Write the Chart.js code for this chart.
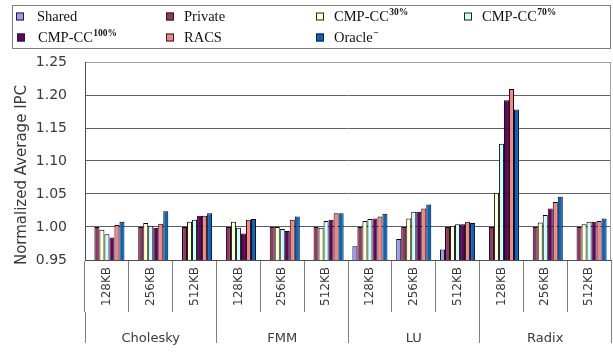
<!DOCTYPE html>
<html>
<head>
<meta charset="utf-8">
<script src="https://cdn.jsdelivr.net/npm/chart.js@4"></script>
<style>
  html, body { margin: 0; padding: 0; background: #fff; }
  #wrap { width: 613px; height: 354px; position: relative; }
</style>
</head>
<body>
<div id="wrap"><canvas id="c" width="613" height="354"></canvas></div>
<script>
// Benchmarks and the L2 cache sizes tested for each
const benchmarks = ['Cholesky', 'FMM', 'LU', 'Radix'];
const cacheSizes = ['128KB', '256KB', '512KB'];
const categories = benchmarks.flatMap(() => cacheSizes);

// Series names; the superscript part is kept separately
const seriesNames = ['Shared', 'Private', 'CMP-CC', 'CMP-CC', 'CMP-CC', 'RACS', 'Oracle'];
const seriesSup   = ['', '', '30%', '70%', '100%', '', '\u2212'];
const seriesColors = ['#9999FF', '#993366', '#FFFFCC', '#CCFFFF', '#660066', '#FF8080', '#0066CC'];

// Normalized average IPC (Cholesky 128/256/512, FMM ..., LU ..., Radix ...)
const shared  = [null, null, null, null, null, null, 0.971, 0.982, 0.966, null, null, null];
const priv    = [1.000, 1.000, 1.000, 1.000, 1.000, 1.000, 1.000, 1.000, 1.000, 1.000, 1.000, 1.000];
const cc30    = [0.996, 1.006, 1.008, 1.008, 1.000, 0.999, 1.009, 1.013, 1.002, 1.052, 1.007, 1.004];
const cc70    = [0.989, 1.002, 1.011, 0.999, 0.997, 1.009, 1.012, 1.023, 1.004, 1.126, 1.018, 1.008];
const cc100   = [0.984, 0.999, 1.017, 0.990, 0.994, 1.011, 1.013, 1.023, 1.004, 1.192, 1.028, 1.008];
const racs    = [1.003, 1.005, 1.017, 1.011, 1.011, 1.021, 1.016, 1.028, 1.008, 1.209, 1.038, 1.009];
const oracle  = [1.008, 1.024, 1.021, 1.012, 1.016, 1.021, 1.020, 1.034, 1.006, 1.178, 1.046, 1.013];
const seriesValues = [shared, priv, cc30, cc70, cc100, racs, oracle];

const yTicks = [0.95, 1.00, 1.05, 1.10, 1.15, 1.20, 1.25];
const yTitle = 'Normalized Average IPC';

const sansFont = 'DejaVu Sans';
const serifFont = 'Liberation Serif';
const textColor = '#3a3a3a';

// Boxed two-row legend with superscripted labels
const legendBox = {
  id: 'legendBox',
  afterDraw(chart) {
    const ctx = chart.ctx;
    ctx.save();
    ctx.strokeStyle = '#808080';
    ctx.lineWidth = 1;
    ctx.strokeRect(12.5, 5.5, 598, 43);
    const markerX = [16, 166, 316, 464];
    const rowY = [16.5, 37.5];
    chart.data.datasets.forEach((ds, i) => {
      const col = i < 4 ? i : i - 4;
      const row = i < 4 ? 0 : 1;
      const mx = markerX[col] + (i === 4 ? 1 : 0);
      const y = rowY[row];
      ctx.fillStyle = ds.backgroundColor;
      ctx.fillRect(mx, y - 4, 8, 8);
      ctx.strokeStyle = '#222';
      ctx.strokeRect(mx + 0.5, y - 3.5, 7, 7);
      const tx = mx + 8 + (col === 0 ? 13 : 10);
      ctx.fillStyle = '#111';
      ctx.textBaseline = 'middle';
      ctx.textAlign = 'left';
      ctx.font = '14.5px "' + serifFont + '"';
      ctx.fillText(seriesNames[i], tx, y + 1);
      const w = ctx.measureText(seriesNames[i]).width;
      if (seriesSup[i]) {
        ctx.font = 'bold 9.5px "' + serifFont + '"';
        ctx.fillText(seriesSup[i], tx + w + 0.5, y - 4);
      }
    });
    ctx.restore();
  }
};

// Light frame on the right edge of the plot area, and the value-axis title
const plotFrame = {
  id: 'plotFrame',
  beforeDatasetsDraw(chart) {
    const { ctx, chartArea: a } = chart;
    ctx.save();
    ctx.strokeStyle = '#a0a0a0';
    ctx.lineWidth = 1;
    ctx.beginPath();
    ctx.moveTo(Math.round(a.right) - 0.5, a.top);
    ctx.lineTo(Math.round(a.right) - 0.5, a.bottom);
    ctx.stroke();
    ctx.restore();
  },
  afterDraw(chart) {
    const ctx = chart.ctx;
    ctx.save();
    ctx.translate(22, 175);
    ctx.rotate(-Math.PI / 2);
    ctx.fillStyle = textColor;
    ctx.font = '15px "' + sansFont + '"';
    ctx.textAlign = 'center';
    ctx.textBaseline = 'middle';
    ctx.fillText(yTitle, 0, 0);
    ctx.restore();
  }
};

new Chart(document.getElementById('c'), {
  type: 'bar',
  data: {
    labels: categories,
    datasets: seriesValues.map((vals, i) => ({
      label: seriesNames[i] + seriesSup[i],
      data: vals,
      backgroundColor: seriesColors[i],
      borderColor: '#000',
      borderWidth: 1,
      categoryPercentage: 0.8,
      barPercentage: 1.0
    }))
  },
  options: {
    responsive: false,
    animation: false,
    layout: { padding: { top: 62, right: 2, left: 0, bottom: 0 } },
    plugins: { legend: { display: false }, tooltip: { enabled: false } },
    scales: {
      y: {
        min: 0.95,
        max: 1.25,
        afterBuildTicks(scale) { scale.ticks = yTicks.map(v => ({ value: v })); },
        afterFit(scale) { scale.width = 85; },
        ticks: {
          padding: 18,
          color: textColor,
          font: { family: sansFont, size: 14 },
          callback: v => v.toFixed(2)
        },
        grid: {
          drawTicks: false,
          color: ctx => (ctx.tick && ctx.tick.value >= 1.249) ? '#a0a0a0' : '#606060'
        },
        border: { color: '#505050' }
      },
      x: {
        position: 'bottom',
        offset: true,
        afterFit(scale) { scale.height = 52; },
        ticks: {
          autoSkip: false,
          minRotation: 90,
          maxRotation: 90,
          padding: -45,
          color: textColor,
          font: { family: sansFont, size: 12 }
        },
        grid: {
          offset: true,
          drawOnChartArea: false,
          drawTicks: true,
          tickLength: 52,
          color: '#808080'
        },
        border: { color: '#505050' }
      },
      x2: {
        type: 'category',
        labels: benchmarks,
        position: 'bottom',
        offset: true,
        afterFit(scale) { scale.height = 42; },
        ticks: {
          autoSkip: false,
          maxRotation: 0,
          padding: -12,
          color: textColor,
          font: { family: sansFont, size: 13 }
        },
        grid: {
          offset: true,
          drawOnChartArea: false,
          drawTicks: true,
          tickLength: 31,
          color: '#808080'
        },
        border: { display: false }
      }
    }
  },
  plugins: [legendBox, plotFrame]
});
</script>
</body>
</html>
